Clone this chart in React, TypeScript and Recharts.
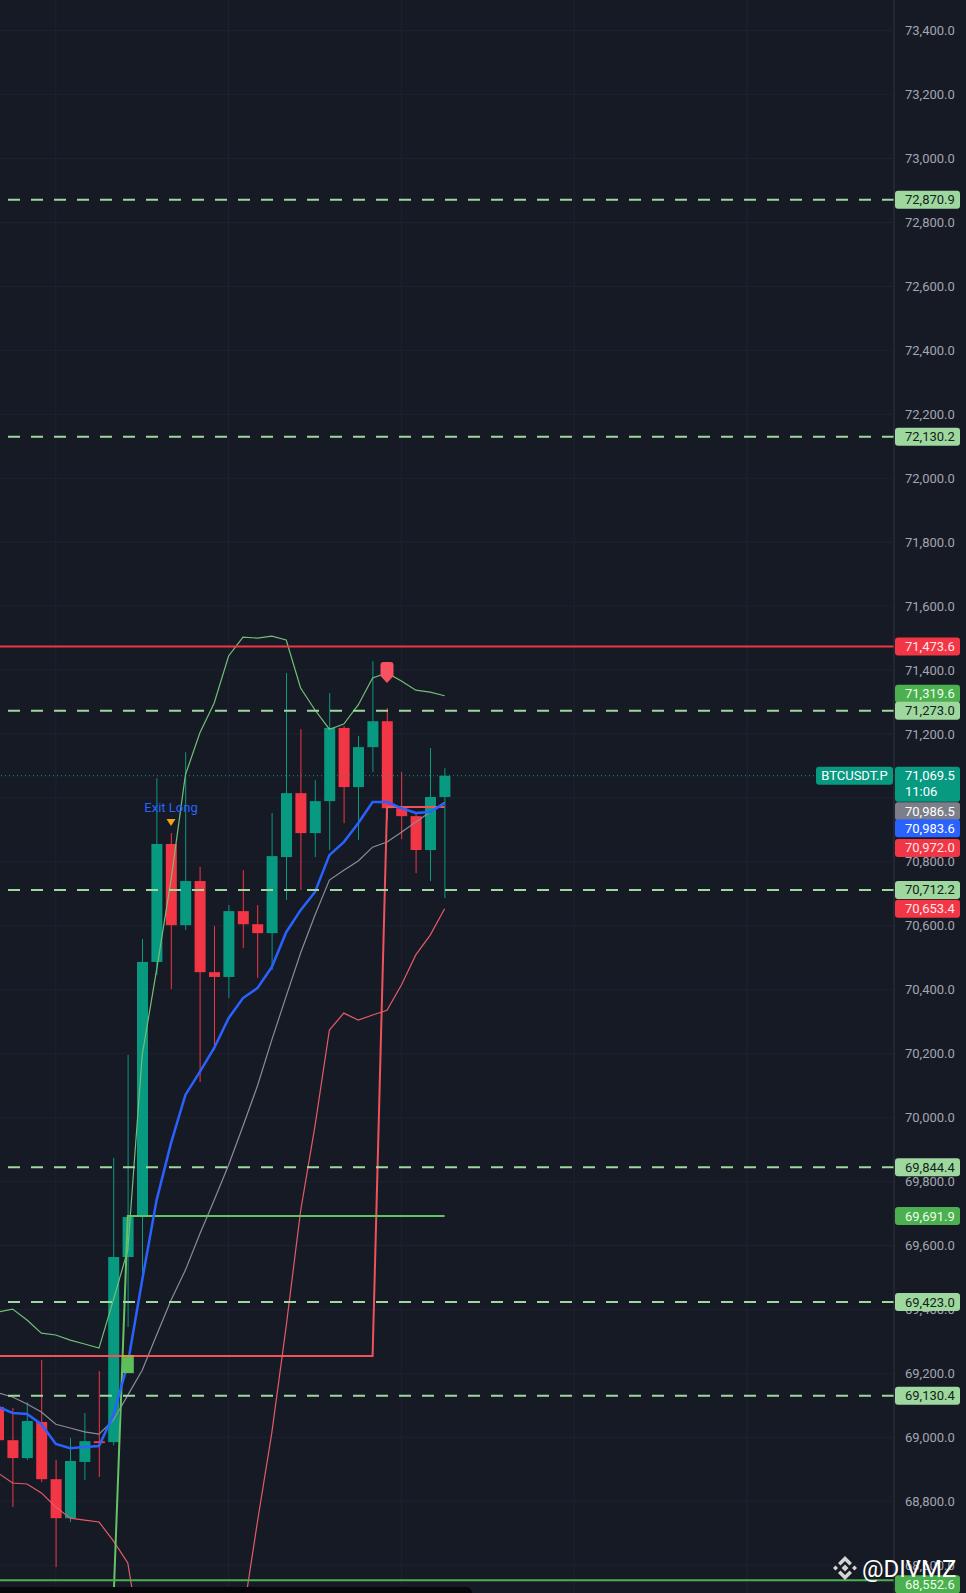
import React from "react";
import {
  ComposedChart,
  Bar,
  Line,
  XAxis,
  YAxis,
  CartesianGrid,
  ReferenceLine,
  ReferenceDot,
} from "recharts";

/* -------------------------------------------------------------------------- */
/*  Data: BTCUSDT.P candles + indicators             */
/* -------------------------------------------------------------------------- */

const candleOpen = [
  69095, 68991, 68935, 69048, 68869, 68747, 68923, 68988, 68985, 69564, 69689,
  70487, 70856, 70602, 70740, 70455, 70440, 70646, 70605, 70577, 70815, 71015,
  70890, 70990, 71219, 71034, 71159, 71240, 70968, 70943, 70837, 71003,
];
const candleHigh = [
  69120, 69092, 69110, 69242, 68929, 68998, 69076, 69207, 69874, 70196, 70559,
  71062, 70890, 71143, 70784, 70599, 70665, 70774, 70665, 70953, 71391, 71215,
  71056, 71328, 71225, 71194, 71428, 71281, 71081, 70953, 71156, 71093,
];
const candleLow = [
  68960, 68782, 68929, 68860, 68594, 68735, 68866, 68876, 68975, 69345, 69500,
  70446, 70402, 70587, 70111, 70211, 70374, 70530, 70437, 70462, 70681, 70712,
  70815, 70837, 70921, 70868, 71081, 70930, 70871, 70765, 70740, 70687,
];
const candleClose = [
  68991, 68935, 69051, 68869, 68747, 68926, 68988, 68982, 69564, 69689, 70487,
  70856, 70602, 70740, 70455, 70440, 70646, 70605, 70577, 70818, 71015, 70890,
  70990, 71219, 71034, 71159, 71240, 70968, 70943, 70837, 71003, 71069.5,
];

// blue moving average
const emaLine = [
  69095, 69076, 69073, 69041, 68979, 68966, 68970, 68973, 69070, 69230, 69492,
  69742, 69920, 70071, 70143, 70218, 70311, 70374, 70405, 70471, 70580, 70649,
  70706, 70821, 70862, 70921, 70987, 70987, 70968, 70953, 70956, 70983.6,
];
// grey band basis
const basisLine = [
  69139, 69126, 69104, 69079, 69041, 69029, 69017, 69010, 69054, 69132, 69210,
  69320, 69429, 69523, 69636, 69742, 69852, 69974, 70099, 70243, 70380, 70515,
  70634, 70743, 70774, 70803, 70846, 70862, 70893, 70925, 70956, 70986.5,
];
const upperBand = [
  69392, 69401, 69367, 69326, 69320, 69304, 69292, 69279, 69430, 69586, 70196,
  70462, 70743, 71072, 71203, 71297, 71444, 71503, 71500, 71506, 71494, 71344,
  71275, 71215, 71231, 71291, 71375, 71391, 71366, 71337, 71331, 71319.6,
];
const lowerBand = [
  68888, 68857, 68854, 68826, 68782, 68747, 68741, 68735, 68676, 68607, 68330,
  68150, 68040, 67990, 67990, 68040, 68180, 68441, 68735, 69014, 69348, 69708,
  69974, 70274, 70327, 70305, 70321, 70336, 70415, 70509, 70571, 70653.4,
];
// trailing stops (green = long, red = short)
const longStop = [
  null, null, null, null, null, null, null, null, 68480, 69691.9, 69691.9,
  69691.9, 69691.9, 69691.9, 69691.9, 69691.9, 69691.9, 69691.9, 69691.9,
  69691.9, 69691.9, 69691.9, 69691.9, 69691.9, 69691.9, 69691.9, 69691.9,
  69691.9, 69691.9, 69691.9, 69691.9, 69691.9,
];
const shortStop = [
  69254, 69254, 69254, 69254, 69254, 69254, 69254, 69254, 69254, 69254, 69254,
  69254, 69254, 69254, 69254, 69254, 69254, 69254, 69254, 69254, 69254, 69254,
  69254, 69254, 69254, 69254, 69254, 70972, 70972, 70972, 70972, 70972,
];

// horizontal drawings
const dashedLevels = [72870.9, 72130.2, 71273.0, 70712.2, 69844.4, 69423.0, 69130.4];
const resistanceLevel = 71473.6;
const floorLevel = 68552.6;
const lastPrice = 71069.5;

// price scale (71,000 sits under the stacked price tags, so it is not shown)
const priceTicks = [
  73400, 73200, 73000, 72800, 72600, 72400, 72200, 72000, 71800, 71600, 71400,
  71200, 70800, 70600, 70400, 70200, 70000, 69800, 69600, 69400, 69200,
  69000, 68800, 68600,
];
const gridPrices = [
  73400, 73200, 73000, 72800, 72600, 72400, 72200, 72000, 71800, 71600, 71400,
  71200, 71000, 70800, 70600, 70400, 70200, 70000, 69800, 69600, 69400, 69200,
  69000, 68800, 68600,
];
const tagPrices = [
  72870.9, 72130.2, 71473.6, 71319.6, 71273.0, 71069.5, 70986.5, 70983.6,
  70972.0, 70712.2, 70653.4, 69844.4, 69691.9, 69423.0, 69130.4, 68552.6,
];
const timeGridSlots = [4, 16, 28, 40, 52];

// signal markers (candle index)
const exitLongAt = 12;
const shortSignalAt = 27;
const longEntryAt = 9;

/* -------------------------------------------------------------------------- */
/*  Look                                                                      */
/* -------------------------------------------------------------------------- */

const BG = "#161a25";
const GRID = "#1e2230";
const UP = "#089981";
const DOWN = "#f23645";
const LEVEL = "#9fd89f";
const AXIS_TEXT = "#a3a6af";
const FONT = "Roboto, 'Noto Sans', sans-serif";
const SLOTS = 62;

const LIGHT = { bg: "#9fd89f", fg: "#10241a" };
const MID = { bg: "#4caf50", fg: "#e8ffe8" };
const RED = { bg: "#f23645", fg: "#ffe6e8" };

// tag colour + vertical nudge (TradingView stacks colliding labels)
const TAG_LOOK = new Map<number, { bg: string; fg: string; nudge: number }>([
  [72870.9, { ...LIGHT, nudge: 0 }],
  [72130.2, { ...LIGHT, nudge: 0 }],
  [71473.6, { ...RED, nudge: 0 }],
  [71319.6, { ...MID, nudge: -2 }],
  [71273.0, { ...LIGHT, nudge: 0 }],
  [71069.5, { bg: UP, fg: "#ffffff", nudge: 0 }],
  [70986.5, { bg: "#7c7f88", fg: "#ffffff", nudge: 9 }],
  [70983.6, { bg: "#2962ff", fg: "#ffffff", nudge: 25 }],
  [70972.0, { ...RED, nudge: 41 }],
  [70712.2, { ...LIGHT, nudge: 0 }],
  [70653.4, { ...RED, nudge: 0 }],
  [69844.4, { ...LIGHT, nudge: 0 }],
  [69691.9, { ...MID, nudge: 0 }],
  [69423.0, { ...LIGHT, nudge: 0 }],
  [69130.4, { ...LIGHT, nudge: 0 }],
  [68552.6, { ...MID, nudge: 4 }],
]);

const fmt = (v: number) =>
  v.toLocaleString("en-US", { minimumFractionDigits: 1, maximumFractionDigits: 1 });

const rows = Array.from({ length: SLOTS }, (_, i) => ({
  i,
  o: candleOpen[i] ?? null,
  h: candleHigh[i] ?? null,
  l: candleLow[i] ?? null,
  c: candleClose[i] ?? null,
  ema: emaLine[i] ?? null,
  basis: basisLine[i] ?? null,
  upper: upperBand[i] ?? null,
  lower: lowerBand[i] ?? null,
  longStop: longStop[i] ?? null,
  shortStop: shortStop[i] ?? null,
}));

/* -------------------------------------------------------------------------- */
/*  Shapes                                                                    */
/* -------------------------------------------------------------------------- */

function Candle(props: any) {
  const { x, y, width, height, payload } = props;
  if (payload == null || payload.o == null) return null;
  const top = Math.min(y, y + height);
  const h = Math.abs(height);
  const { o, c } = payload;
  const hi = payload.h;
  const lo = payload.l;
  const py = (v: number) => top + ((hi - v) / (hi - lo)) * h;
  const color = c >= o ? UP : DOWN;
  const cx = x + width / 2;
  const bTop = py(Math.max(o, c));
  const bBot = py(Math.min(o, c));
  return (
    <g>
      <line x1={cx} x2={cx} y1={top} y2={top + h} stroke={color} strokeWidth={1} />
      <rect x={x} y={bTop} width={width} height={Math.max(2, bBot - bTop)} fill={color} />
    </g>
  );
}

function ExitLongMark({ cx, cy }: any) {
  return (
    <g>
      <text
        x={cx}
        y={cy - 26}
        dy="0.35em"
        textAnchor="middle"
        fill="#2962ff"
        fontSize={13}
        fontFamily={FONT}
      >
        Exit Long
      </text>
      <path d={`M${cx - 4.5},${cy - 14} L${cx + 4.5},${cy - 14} L${cx},${cy - 7} Z`} fill="#f7a21b" />
    </g>
  );
}

function ShortSignalMark({ cx, cy }: any) {
  const t = cy - 46;
  return (
    <path
      d={`M${cx - 6.5},${t + 3} Q${cx - 6.5},${t} ${cx - 3.5},${t} L${cx + 3.5},${t} Q${cx + 6.5},${t} ${cx + 6.5},${t + 3} L${cx + 6.5},${t + 14} L${cx},${t + 21} L${cx - 6.5},${t + 14} Z`}
      fill="#f7525f"
    />
  );
}

function LongEntryMark({ cx, cy }: any) {
  return (
    <g>
      <rect x={cx - 6} y={cy + 1} width={12} height={16} fill="#5cbf5c" />
      <rect x={cx - 6} y={cy - 1} width={12} height={2} fill="#e09a3c" />
    </g>
  );
}

function PriceTick(props: any) {
  const { x, y, payload } = props;
  const v: number = payload.value;
  const look = TAG_LOOK.get(v);
  if (!look) {
    return (
      <text x={x + 11} y={y} dy="0.35em" fill={AXIS_TEXT} fontSize={13} fontFamily={FONT}>
        {fmt(v)}
      </text>
    );
  }
  const cy = y + look.nudge;
  if (v === lastPrice) {
    return (
      <g>
        <rect x={x - 78} y={cy - 9} width={77} height={18} rx={3} fill={UP} />
        <text
          x={x - 39.5}
          y={cy}
          dy="0.35em"
          textAnchor="middle"
          fill="#ffffff"
          fontSize={13}
          fontFamily={FONT}
        >
          BTCUSDT.P
        </text>
        <rect x={x + 1} y={cy - 9} width={65} height={35} rx={3} fill={look.bg} />
        <text x={x + 11} y={cy} dy="0.35em" fill={look.fg} fontSize={13} fontFamily={FONT}>
          {fmt(v)}
        </text>
        <text x={x + 11} y={cy + 16} dy="0.35em" fill={look.fg} fontSize={13} fontFamily={FONT}>
          11:06
        </text>
      </g>
    );
  }
  return (
    <g>
      <rect x={x + 1} y={cy - 9} width={65} height={18} rx={3} fill={look.bg} />
      <text x={x + 11} y={cy} dy="0.35em" fill={look.fg} fontSize={13} fontFamily={FONT}>
        {fmt(v)}
      </text>
    </g>
  );
}

function Watermark() {
  return (
    <svg
      width={966}
      height={1593}
      style={{ position: "absolute", left: 0, top: 0, pointerEvents: "none" }}
    >
      <g transform="translate(832,1555)" fill="#d4d4d4">
        <path d="M13,1 L20,8 L17.5,10.5 L13,6 L8.5,10.5 L6,8 Z" />
        <path d="M13,25 L20,18 L17.5,15.5 L13,20 L8.5,15.5 L6,18 Z" />
        <path d="M13,9.5 L16.5,13 L13,16.5 L9.5,13 Z" />
        <path d="M3.5,10.5 L6,13 L3.5,15.5 L1,13 Z" />
        <path d="M22.5,10.5 L25,13 L22.5,15.5 L20,13 Z" />
      </g>
      <text x={862} y={1577} fill="#ffffff" fontSize={24} fontFamily={FONT}>
        @DIVMZ
      </text>
    </svg>
  );
}

/* -------------------------------------------------------------------------- */
/*  Chart                                                                     */
/* -------------------------------------------------------------------------- */

const lineProps = { dot: false, activeDot: false, isAnimationActive: false } as const;

export default function App() {
  return (
    <div style={{ position: "relative", width: 966, height: 1593, overflow: "hidden", background: BG }}>
      <style>{`body{margin:0;background:${BG};}`}</style>
      <div style={{ position: "absolute", left: -9, top: 0 }}>
        <ComposedChart
          width={975}
          height={1593}
          data={rows}
          margin={{ top: 0, right: 0, bottom: 0, left: 0 }}
        >
          <CartesianGrid stroke={GRID} horizontalValues={gridPrices} />
          <XAxis
            dataKey="i"
            type="category"
            hide
            ticks={timeGridSlots}
            interval={0}
            padding={{ left: 0, right: 10.2 }}
          />
          <YAxis
            orientation="right"
            width={72}
            domain={[68513, 73496]}
            allowDataOverflow
            ticks={[...priceTicks, ...tagPrices]}
            interval={0}
            tick={(p: any) => <PriceTick {...p} />}
            tickLine={false}
            tickSize={0}
            tickMargin={0}
            axisLine={{ stroke: "#2a2e39" }}
          />

          <ReferenceLine y={lastPrice} stroke={UP} strokeDasharray="1 3" strokeWidth={1} />

          <Bar
            dataKey={(d: any) => (d.o == null ? null : [d.l, d.h])}
            barSize={11}
            shape={(p: any) => <Candle {...p} />}
            activeBar={false}
            isAnimationActive={false}
          />

          <Line dataKey="basis" stroke="#8a8d96" strokeWidth={1.2} {...lineProps} />
          <Line dataKey="upper" stroke="#72bf76" strokeWidth={1.2} {...lineProps} />
          <Line dataKey="lower" stroke="#e35b66" strokeWidth={1.2} {...lineProps} />
          <Line dataKey="shortStop" stroke="#f0525c" strokeWidth={2} {...lineProps} />
          <Line dataKey="longStop" stroke="#66c266" strokeWidth={2} {...lineProps} />
          <Line dataKey="ema" stroke="#2962ff" strokeWidth={2.5} {...lineProps} />

          {dashedLevels.map((v) => (
            <ReferenceLine key={v} y={v} stroke={LEVEL} strokeWidth={2} strokeDasharray="12 11" />
          ))}
          <ReferenceLine y={resistanceLevel} stroke={DOWN} strokeWidth={2} />
          <ReferenceLine y={floorLevel} stroke="#4caf50" strokeWidth={2} />

          <ReferenceDot
            x={exitLongAt}
            y={candleHigh[exitLongAt]}
            ifOverflow="visible"
            shape={(p: any) => <ExitLongMark {...p} />}
          />
          <ReferenceDot
            x={shortSignalAt}
            y={candleHigh[shortSignalAt]}
            ifOverflow="visible"
            shape={(p: any) => <ShortSignalMark {...p} />}
          />
          <ReferenceDot
            x={longEntryAt}
            y={shortStop[0]}
            ifOverflow="visible"
            shape={(p: any) => <LongEntryMark {...p} />}
          />
        </ComposedChart>
      </div>
      <Watermark />
      <div
        style={{
          position: "absolute",
          left: 0,
          top: 1587,
          width: 472,
          height: 12,
          background: "#07080c",
          borderTopRightRadius: 6,
        }}
      />
    </div>
  );
}
